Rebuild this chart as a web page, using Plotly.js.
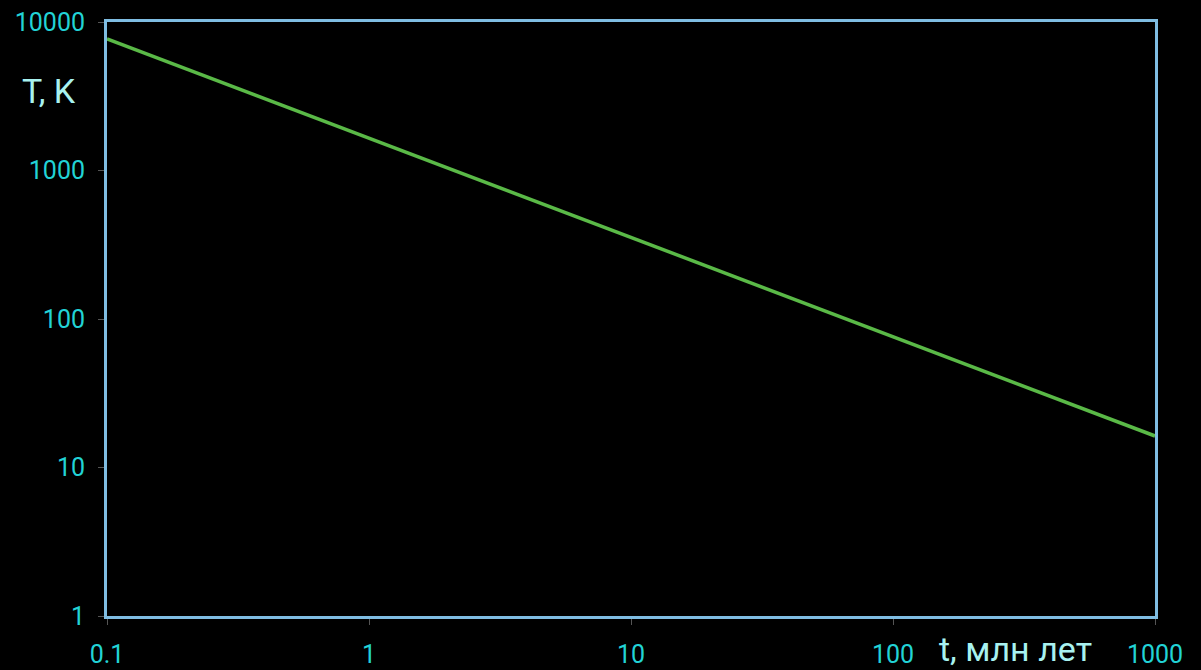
<!DOCTYPE html>
<html>
<head>
<meta charset="utf-8">
<script src="https://cdn.plot.ly/plotly-3.0.1.min.js"></script>
<style>
  html, body { margin: 0; padding: 0; background: #000; }
  #chart { width: 1201px; height: 670px; }
</style>
</head>
<body>
<div id="chart"></div>
<script>
// Cooling curve: temperature versus time, log–log
const timeMyr = [0.1, 1, 10, 100, 1000];
const tempK = [7700, 1650, 354, 76, 16.3];

const xTickVals = [0.1, 1, 10, 100, 1000];
const xTickText = ['0.1', '1', '10', '100', '1000'];
const yTickVals = [1, 10, 100, 1000, 10000];
const yTickText = ['1', '10', '100', '1000', '10000'];

const labelFont = { family: 'Roboto, "DejaVu Sans", sans-serif', size: 25, color: '#22d3d6' };
const titleFont = { family: 'Roboto, "DejaVu Sans", sans-serif', size: 34, color: '#a8f2f0' };

const trace = {
  x: timeMyr,
  y: tempK,
  type: 'scatter',
  mode: 'lines',
  line: { color: '#5ab947', width: 3.5 },
  hoverinfo: 'skip'
};

const layout = {
  width: 1201,
  height: 670,
  paper_bgcolor: '#000000',
  plot_bgcolor: '#000000',
  showlegend: false,
  margin: { l: 107, r: 46, t: 22, b: 54 },
  xaxis: {
    type: 'log',
    range: [-1, 3],
    tickvals: xTickVals,
    ticktext: xTickText,
    tickfont: labelFont,
    ticks: 'outside',
    ticklen: 6,
    tickwidth: 1,
    tickcolor: '#555555',
    ticklabelstandoff: 8,
    showgrid: false,
    zeroline: false,
    showline: true,
    linecolor: '#7fbde2',
    linewidth: 3,
    mirror: true
  },
  yaxis: {
    type: 'log',
    range: [0, 4],
    tickvals: yTickVals,
    ticktext: yTickText,
    tickfont: labelFont,
    ticks: 'outside',
    ticklen: 6,
    tickwidth: 1,
    tickcolor: '#555555',
    ticklabelstandoff: 8,
    showgrid: false,
    zeroline: false,
    showline: true,
    linecolor: '#7fbde2',
    linewidth: 3,
    mirror: true
  },
  annotations: [
    {
      text: 'T, K',
      xref: 'paper', yref: 'paper',
      x: -0.083, y: 0.883,
      xanchor: 'left', yanchor: 'middle',
      showarrow: false,
      font: titleFont
    },
    {
      text: 't, млн лет',
      xref: 'paper', yref: 'paper',
      x: 0.792, y: -0.092,
      xanchor: 'left', yanchor: 'bottom',
      showarrow: false,
      font: titleFont
    }
  ]
};

Plotly.newPlot('chart', [trace], layout, { displayModeBar: false, staticPlot: true });
</script>
</body>
</html>
